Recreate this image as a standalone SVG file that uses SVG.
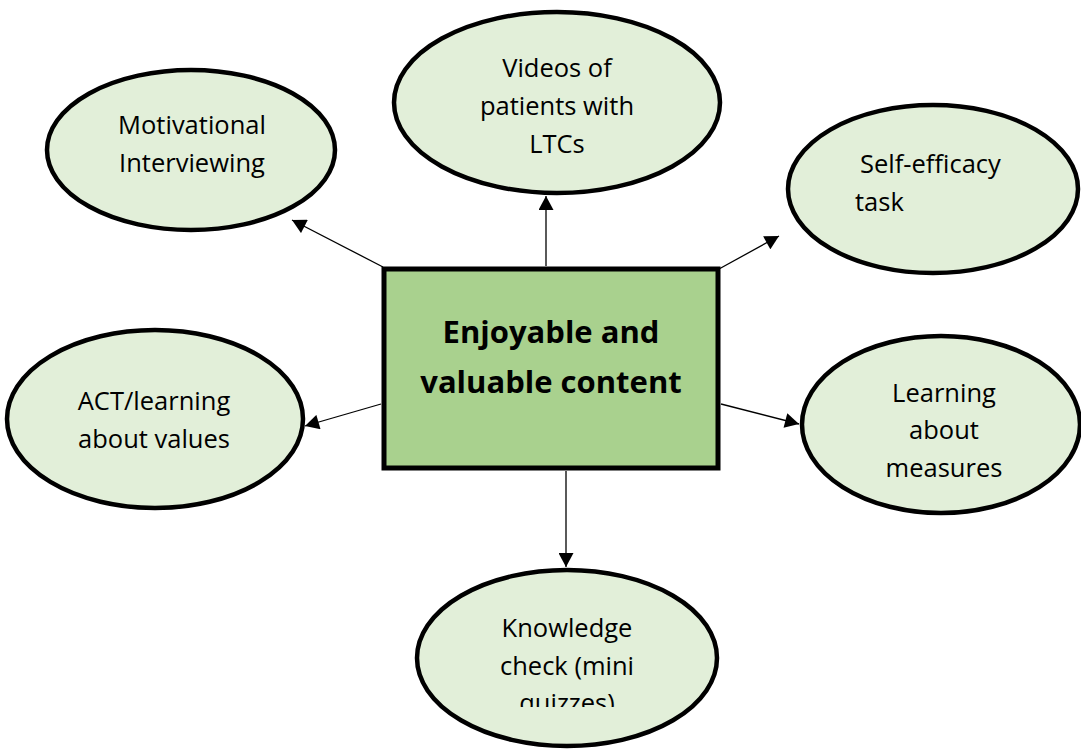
<svg xmlns="http://www.w3.org/2000/svg" width="1081" height="749" viewBox="0 0 1081 749">
<defs>
<style>
.node{fill:#e2efd9;stroke:#000;stroke-width:4.5}
.center{fill:#a9d18e;stroke:#000;stroke-width:5}
.t{font-family:"Open Sans","Liberation Sans",sans-serif;font-size:25.5px;fill:#000}
.c{text-anchor:middle}
.title{font-family:"Open Sans","Liberation Sans",sans-serif;font-size:31px;font-weight:bold;fill:#000;text-anchor:middle}
.conn{stroke:#000;stroke-width:1.3;fill:none;marker-end:url(#arr)}
</style>
<marker id="arr" markerUnits="userSpaceOnUse" markerWidth="15" markerHeight="15" viewBox="0 0 14 15" refX="14" refY="7.5" orient="auto">
<path d="M0,0 L14,7.5 L0,15 z" fill="#000"/>
</marker>
<clipPath id="clipK"><rect x="0" y="0" width="1081" height="707"/></clipPath>
</defs>
<rect width="1081" height="749" fill="#fff"/>
<g id="connectors">
<line class="conn" x1="383" y1="267" x2="292" y2="220"/>
<line class="conn" x1="546" y1="266" x2="546" y2="196"/>
<line class="conn" x1="719" y1="269" x2="779" y2="236"/>
<line class="conn" x1="381" y1="404" x2="305" y2="426"/>
<line class="conn" x1="721" y1="404" x2="799" y2="424"/>
<line class="conn" x1="566" y1="471" x2="566" y2="567"/>
</g>
<g id="center">
<rect class="center" x="384" y="269" width="334" height="199"/>
<text class="title" x="551" y="343">Enjoyable and</text>
<text class="title" x="551" y="393">valuable content</text>
</g>
<g id="motivational">
<ellipse class="node" cx="191" cy="150" rx="144" ry="80"/>
<text class="t c" x="192" y="134">Motivational</text>
<text class="t c" x="192" y="171.5">Interviewing</text>
</g>
<g id="videos">
<ellipse class="node" cx="557" cy="102.5" rx="163" ry="90.5"/>
<text class="t c" x="557" y="77">Videos of</text>
<text class="t c" x="557" y="115">patients with</text>
<text class="t c" x="557" y="153">LTCs</text>
</g>
<g id="selfefficacy">
<ellipse class="node" cx="933" cy="189" rx="145" ry="84"/>
<text class="t" x="860" y="173">Self-efficacy</text>
<text class="t" x="855" y="211">task</text>
</g>
<g id="act">
<ellipse class="node" cx="155" cy="419" rx="148" ry="89"/>
<text class="t c" x="154" y="410">ACT/learning</text>
<text class="t c" x="154" y="448">about values</text>
</g>
<g id="measures">
<ellipse class="node" cx="941" cy="424.5" rx="139" ry="88.5"/>
<text class="t c" x="944" y="402">Learning</text>
<text class="t c" x="944" y="439">about</text>
<text class="t c" x="944" y="477">measures</text>
</g>
<g id="knowledge">
<ellipse class="node" cx="567" cy="658" rx="150" ry="88"/>
<text class="t c" x="567" y="637">Knowledge</text>
<text class="t c" x="567" y="675">check (mini</text>
<text class="t c" x="567" y="712" clip-path="url(#clipK)">quizzes)</text>
</g>
</svg>
